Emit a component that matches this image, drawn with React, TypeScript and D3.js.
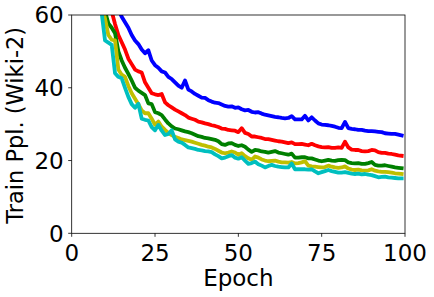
import React from "react";
import * as d3 from "d3";

const epochs: number[] = d3.range(8, 100);

const blue = [95, 88, 80, 73, 68, 64, 61.5, 59.5, 58, 56.5, 54.5, 53, 52, 50.5, 49.5, 50.3, 47.5, 46.2, 45.5, 44.5, 44.2, 43, 42.4, 41.5, 40.6, 40, 42, 39.5, 39, 38.3, 37.8, 37.3, 37.2, 36.6, 36.2, 35.9, 35.8, 35.4, 35, 34.8, 34.9, 34.5, 34.6, 34.1, 33.8, 33.9, 33.4, 33.2, 33.3, 32.9, 32.6, 32.4, 32.2, 32, 31.9, 31.7, 31.6, 31.7, 32.2, 31.3, 31.3, 31.3, 32.3, 31, 31.9, 31, 30.2, 29.9, 29.8, 29.7, 29.5, 29.3, 29, 28.9, 30.6, 28.9, 28.7, 28.6, 28.4, 28.4, 28.2, 28.1, 28.1, 28, 27.9, 27.8, 27.5, 27.4, 27.3, 27.3, 27.1, 26.9];
const red = [85, 78, 71, 65, 61, 57.5, 54.5, 52.5, 50.5, 48, 46.5, 45, 44.5, 44.2, 41.5, 40, 38.5, 38.2, 38, 38.3, 36, 35.2, 34.6, 34, 33.5, 33, 32.5, 31.8, 31.5, 31.2, 30.7, 30.5, 30.2, 30, 29.7, 29.5, 29.2, 28.8, 28.7, 28.4, 28.3, 28.2, 27.8, 28.9, 27.6, 27.3, 26.6, 26.6, 26.4, 26.2, 25.9, 25.9, 25.7, 25.5, 25.3, 25.2, 25, 24.8, 25, 24.5, 24.5, 24.6, 24.4, 24.2, 24.6, 24.2, 23.9, 23.7, 23.6, 23.7, 23.5, 23.5, 23.6, 23.5, 25.2, 23.6, 23, 22.9, 22.9, 22.6, 22.5, 22.6, 22.9, 22.8, 22.3, 22.1, 22.1, 21.9, 21.8, 21.6, 21.4, 21.3];
const green = [75, 67, 61, 57.7, 56.5, 55, 50, 47.5, 45.5, 43.8, 42, 40, 39.2, 38.6, 38, 35.7, 35.5, 33.3, 33, 32.5, 31.3, 30.2, 29.4, 28.8, 28.6, 28.3, 28, 27.8, 27.5, 27.1, 26.7, 26.5, 26.2, 26.1, 25.9, 25.7, 25.3, 24.5, 24.3, 24.7, 24.8, 24.3, 24, 24.2, 23.8, 23, 22.4, 22.9, 22.8, 22.5, 22.4, 22.2, 22.4, 22.6, 22.2, 22, 21.8, 21.6, 21.9, 20.8, 20.8, 20.9, 20.9, 20.6, 20.6, 20.3, 20, 19.8, 20, 20.2, 20, 19.9, 20.1, 20.2, 20.1, 19.5, 19.3, 19.2, 19.3, 19.1, 19.1, 19.3, 19.6, 18.8, 18.6, 18.6, 18.7, 18.5, 18.3, 18.1, 18, 17.9];
const yellow = [70, 63, 59, 54.5, 53.2, 53, 45, 43.6, 43, 40.5, 38.5, 37, 35.5, 33.8, 33, 33, 31.5, 29.8, 30.7, 29.3, 28.4, 27.6, 27, 26.5, 26.2, 25.8, 25.6, 25.4, 25.2, 24.9, 24.6, 24.3, 24.1, 23.8, 23.6, 23.2, 22.7, 22.2, 22, 22.2, 22.5, 22.2, 21.6, 22, 21.2, 20.6, 20.2, 21.1, 20.8, 20.3, 20, 19.8, 19.9, 20, 19.7, 19.5, 19.5, 19.4, 19.6, 19.2, 19.3, 19.5, 19.8, 18.6, 18.4, 18.3, 18.2, 18.1, 18.2, 18.6, 18.3, 18.1, 18, 18.1, 18.4, 17.8, 17.5, 17.4, 17.5, 17.3, 17.2, 17.3, 17.6, 17.2, 17, 16.9, 16.9, 16.8, 16.7, 16.5, 16.4, 16.3];
const cyan = [68, 60.5, 53, 52.4, 51.8, 44, 43, 42.6, 40, 37.5, 35.5, 34.5, 35.6, 31.5, 31.2, 31, 29.2, 28.3, 29.8, 28.2, 27, 27.3, 28.3, 25.8, 25.2, 24.9, 24.3, 23.6, 23.4, 23.2, 22.9, 22.8, 22.6, 22.5, 22.3, 21.7, 21.2, 20.6, 20.8, 21.2, 21.5, 20.8, 20.5, 20.9, 20, 19.1, 19.3, 19.7, 19, 18.6, 18.1, 18.5, 18.8, 18.5, 18.3, 18.2, 18.1, 18.1, 19.2, 17.6, 17.6, 17.6, 17.6, 17.5, 17.6, 17, 16.5, 16.8, 17.1, 17.4, 17.1, 16.9, 16.7, 16.7, 16.8, 16.6, 16.4, 16.3, 16.4, 16.2, 16.3, 16.1, 16, 15.7, 15.4, 15.5, 15.6, 15.4, 15.3, 15.2, 15.1, 15.1];

const seriesValues = [blue, red, green, yellow, cyan];
const seriesColors = ["#0000ff", "#ff0000", "#008000", "#bfbf00", "#00bfbf"];

const xTicks = [0, 25, 50, 75, 100];
const yTicks = [0, 20, 40, 60];

const W = 434;
const H = 297;
const M = { left: 71.7, right: 29, top: 15, bottom: 63.7 };

export default function App() {
  const x = d3.scaleLinear().domain([0, 100]).range([M.left, W - M.right]);
  const y = d3.scaleLinear().domain([0, 60]).range([H - M.bottom, M.top]);
  const line = d3
    .line<number>()
    .x((_, i) => x(epochs[i]))
    .y((d) => y(d));
  const font = "'DejaVu Sans', sans-serif";
  const tickFs = 23;
  return (
    <svg
      width={W}
      height={H}
      style={{ position: "absolute", left: 0, top: 0, background: "#fff" }}
    >
      <defs>
        <clipPath id="plotclip">
          <rect x={M.left} y={M.top} width={W - M.right - M.left} height={H - M.bottom - M.top} />
        </clipPath>
      </defs>
      <g clipPath="url(#plotclip)">
        {seriesValues.map((vals, k) => (
          <path
            key={k}
            d={line(vals) || ""}
            fill="none"
            stroke={seriesColors[k]}
            strokeWidth={3.8}
            strokeLinejoin="round"
            strokeLinecap="square"
          />
        ))}
      </g>
      <rect
        x={M.left}
        y={M.top}
        width={W - M.right - M.left}
        height={H - M.bottom - M.top}
        fill="none"
        stroke="#000"
        strokeWidth={0.8}
      />
      {xTicks.map((t) => (
        <g key={"x" + t}>
          <line x1={x(t)} x2={x(t)} y1={y(0)} y2={y(0) + 3.5} stroke="#000" strokeWidth={0.8} />
          <text x={x(t)} y={260.5} textAnchor="middle" fontFamily={font} fontSize={tickFs}>
            {t}
          </text>
        </g>
      ))}
      {yTicks.map((t) => (
        <g key={"y" + t}>
          <line x1={M.left - 3.5} x2={M.left} y1={y(t)} y2={y(t)} stroke="#000" strokeWidth={0.8} />
          <text x={M.left - 8} y={y(t) + 8.4} textAnchor="end" fontFamily={font} fontSize={tickFs}>
            {t}
          </text>
        </g>
      ))}
      <text x={(M.left + W - M.right) / 2} y={285.5} textAnchor="middle" fontFamily={font} fontSize={tickFs}>
        Epoch
      </text>
      <text
        transform={`translate(23, 125.3) rotate(-90)`}
        textAnchor="middle"
        fontFamily={font}
        fontSize={22.5}
      >
        Train Ppl. (Wiki-2)
      </text>
    </svg>
  );
}
